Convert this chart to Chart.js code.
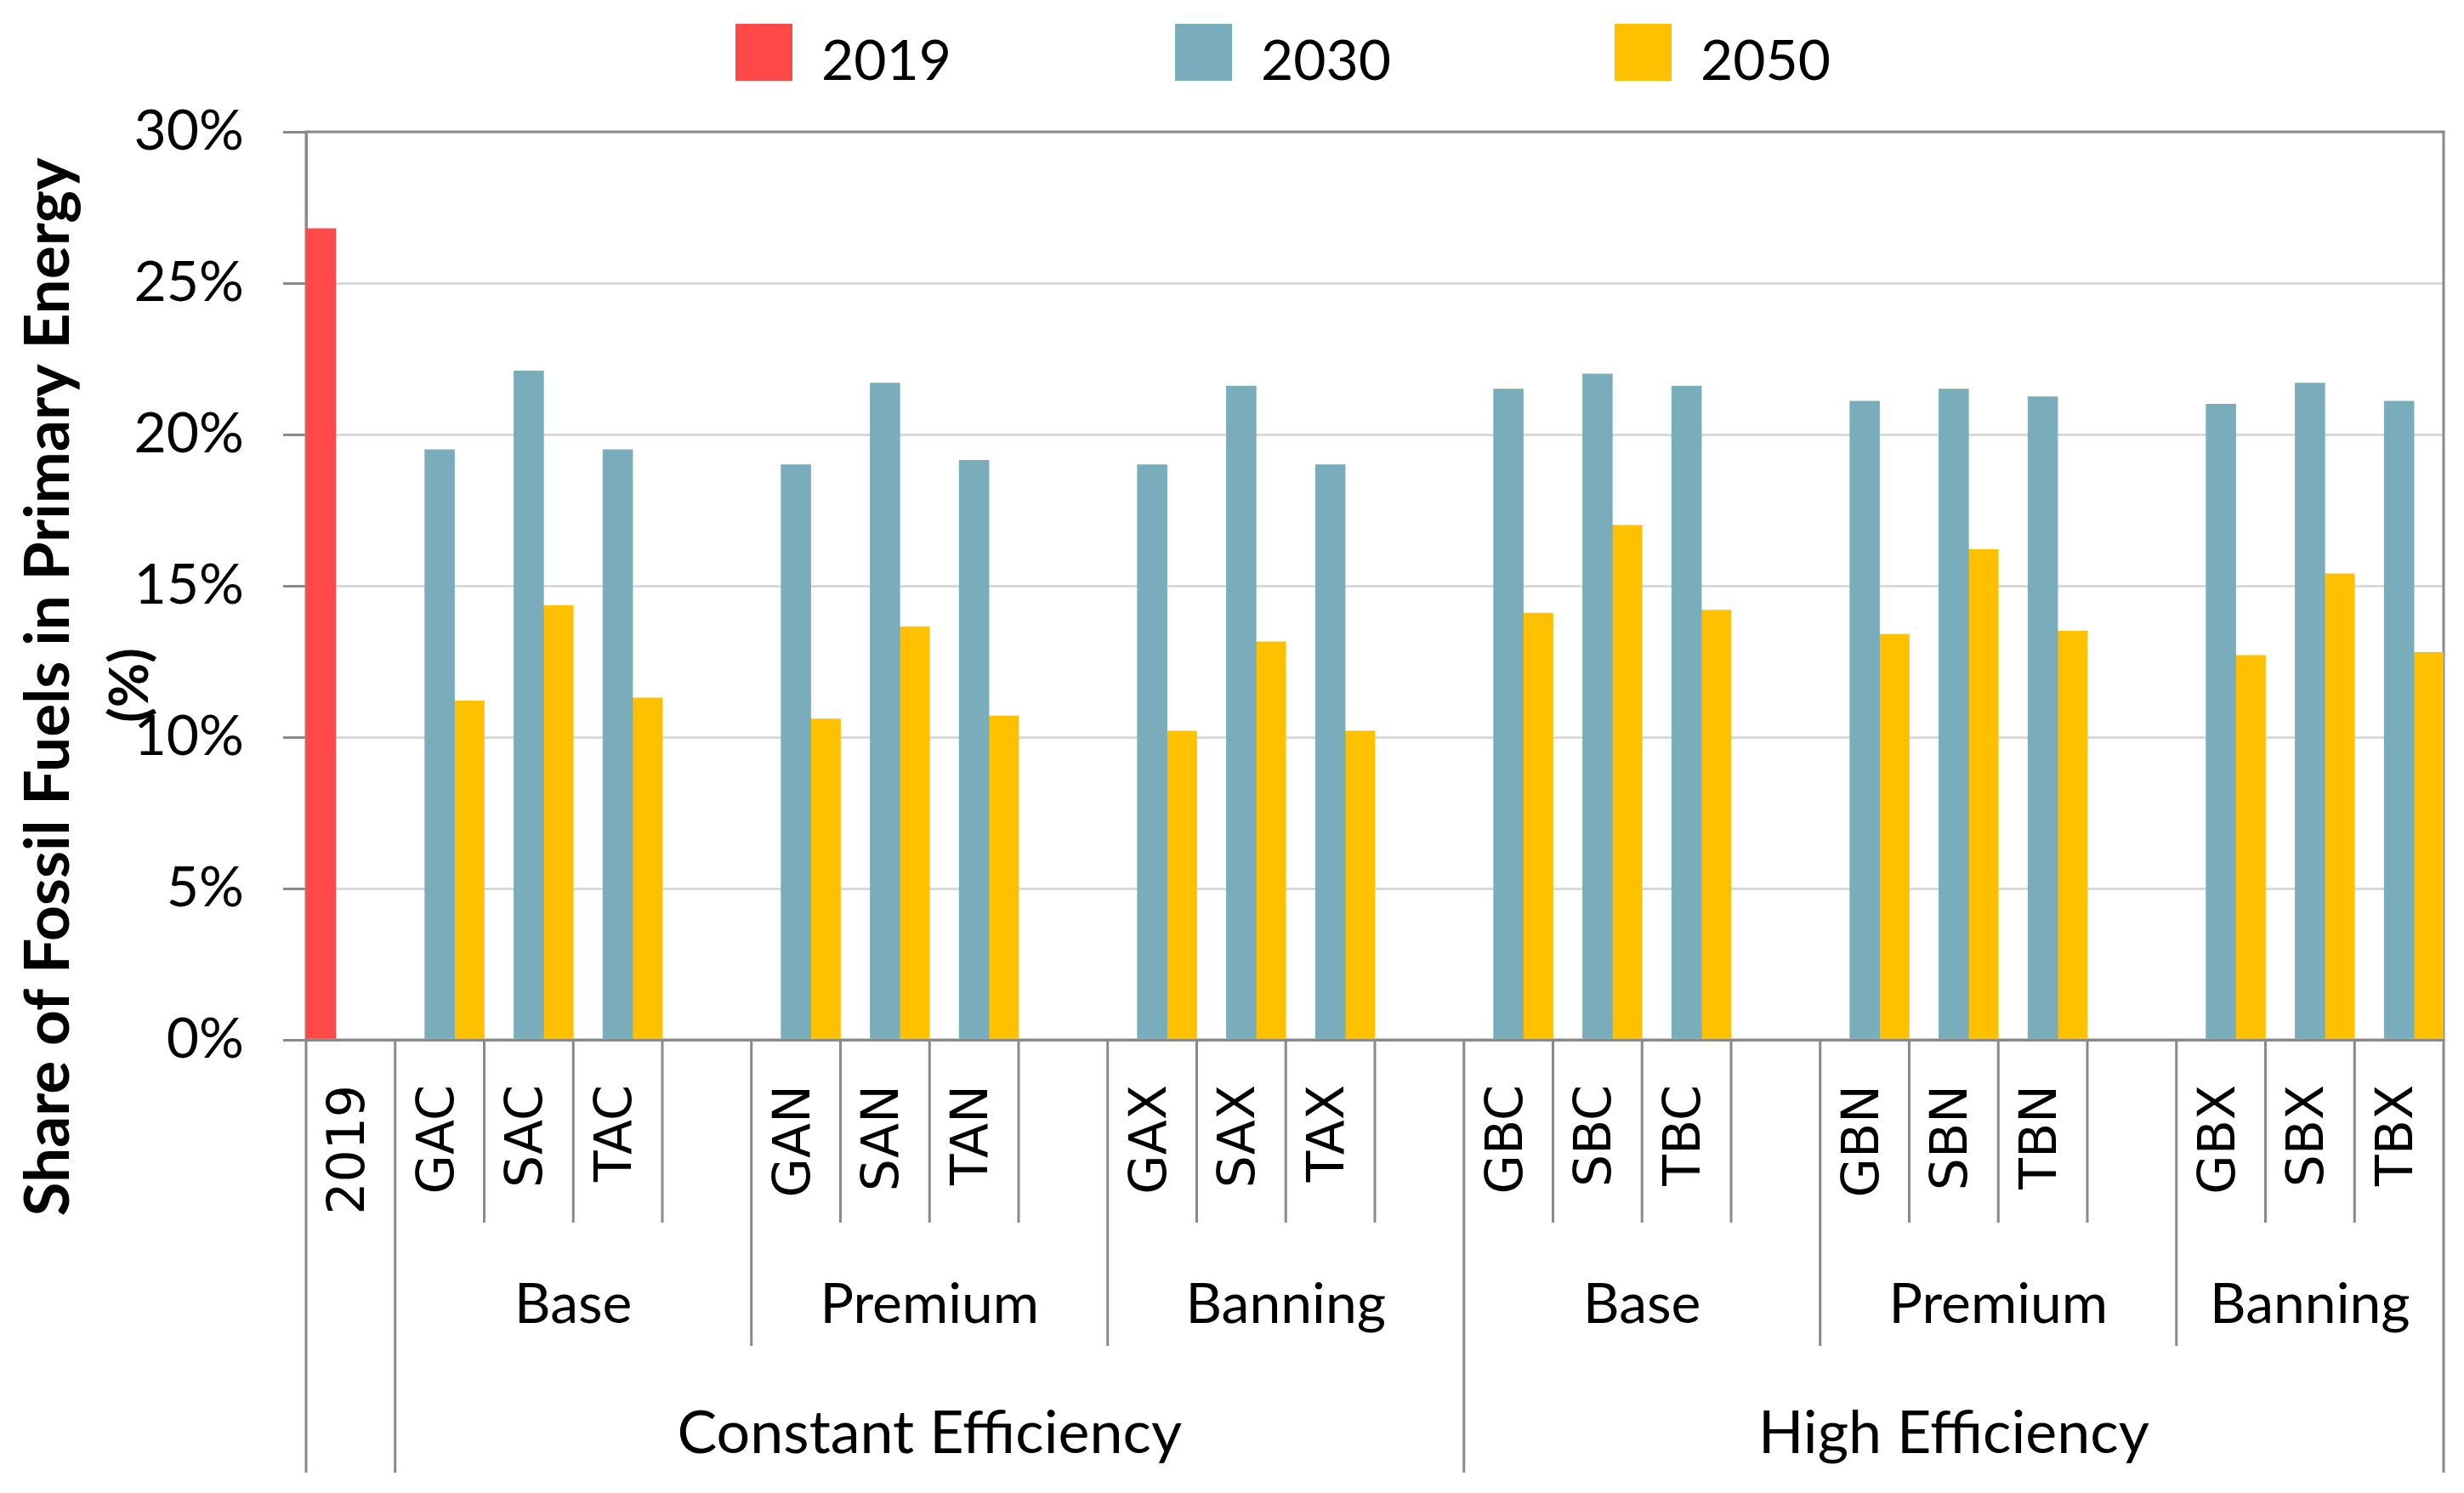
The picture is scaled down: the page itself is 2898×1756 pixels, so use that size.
<!DOCTYPE html>
<html>
<head>
<meta charset="utf-8">
<title>Share of Fossil Fuels in Primary Energy</title>
<script src="https://cdn.jsdelivr.net/npm/chart.js@4.4.0/dist/chart.umd.min.js"></script>
<style>
    html, body { margin: 0; padding: 0; background: #ffffff; }
    #contenedor { width: 2898px; height: 1756px; }
</style>
</head>
<body>
<div id="contenedor"><canvas id="grafico"></canvas></div>
<script>

//DATOS DEL GRÁFICO.
const categorias = ['2019', 'GAC', 'SAC', 'TAC', '', 'GAN', 'SAN', 'TAN', '', 'GAX', 'SAX', 'TAX', '',
                    'GBC', 'SBC', 'TBC', '', 'GBN', 'SBN', 'TBN', '', 'GBX', 'SBX', 'TBX'];
const valores2019 = [26.8, null, null, null, null, null, null, null, null, null, null, null, null,
                     null, null, null, null, null, null, null, null, null, null, null];
const valores2030 = [null, 19.5, 22.1, 19.5, null, 19.0, 21.7, 19.15, null, 19.0, 21.6, 19.0, null,
                     21.5, 22.0, 21.6, null, 21.1, 21.5, 21.25, null, 21.0, 21.7, 21.1];
const valores2050 = [null, 11.2, 14.35, 11.3, null, 10.6, 13.65, 10.7, null, 10.2, 13.15, 10.2, null,
                     14.1, 17.0, 14.2, null, 13.4, 16.2, 13.5, null, 12.7, 15.4, 12.8];
const series = ['2019', '2030', '2050'];
const politicas = ['', 'Base', 'Premium', 'Banning', 'Base', 'Premium', 'Banning'];
const politicasSpan = [1, 4, 4, 4, 4, 4, 3];
const eficiencias = ['', 'Constant Efficiency', 'High Efficiency'];
const eficienciasSpan = [1, 12, 11];
const ticksY = [0, 5, 10, 15, 20, 25, 30];
const tituloY = ['Share of Fossil Fuels in Primary Energy', '(%)'];

const COLOR_EJE = '#898989';
const COLOR_GRILLA = '#d9d9d9';


//FUNCIÓN PARA OBTENER LOS LÍMITES (EN PIXELES) DE CADA CATEGORÍA DEL EJE X.
function limitesCategorias(escala) {
    const ancho = escala.getPixelForValue(1) - escala.getPixelForValue(0);
    const limites = [];
    for (let i = 0; i <= categorias.length; i++) {
        limites.push(escala.getPixelForValue(0) - ancho / 2 + i * ancho);
    }
    return limites;
}


//FUNCIÓN PARA OBTENER LOS ÍNDICES DONDE TERMINA CADA GRUPO.
function cortesGrupo(spans) {
    const cortes = [0];
    spans.forEach(s => cortes.push(cortes[cortes.length - 1] + s));
    return cortes;
}


//PLUGIN PARA DIBUJAR EL MARCO, LA LEYENDA, EL TÍTULO Y LAS ETIQUETAS AGRUPADAS DEL EJE X.
const etiquetasAgrupadas = {
    id: 'etiquetasAgrupadas',
    beforeDatasetsDraw(chart) {
        const {ctx, chartArea} = chart;
        ctx.save();
        ctx.strokeStyle = COLOR_EJE;
        ctx.lineWidth = 3;
        ctx.strokeRect(chartArea.left, chartArea.top, chartArea.width, chartArea.height);
        ctx.restore();
    },
    afterDraw(chart) {
        const {ctx, chartArea} = chart;
        const escalaX = chart.scales.x;
        const limites = limitesCategorias(escalaX);
        const base = chartArea.bottom;
        const cortesPol = cortesGrupo(politicasSpan);
        const cortesEf = cortesGrupo(eficienciasSpan);

        ctx.save();
        ctx.strokeStyle = COLOR_EJE;
        ctx.lineWidth = 3;

        //LÍNEAS SEPARADORAS (3 NIVELES).
        limites.forEach((x, i) => {
            let largo = 215;
            if (cortesPol.includes(i)) largo = 360;
            if (cortesEf.includes(i)) largo = 509;
            ctx.beginPath();
            ctx.moveTo(x, base);
            ctx.lineTo(x, base + largo);
            ctx.stroke();
        });

        //ETIQUETAS DE POLÍTICA Y EFICIENCIA.
        ctx.fillStyle = '#000000';
        ctx.textAlign = 'center';
        ctx.textBaseline = 'middle';
        ctx.font = '66px Lato';
        politicas.forEach((texto, i) => {
            const centro = (limites[cortesPol[i]] + limites[cortesPol[i + 1]]) / 2;
            ctx.fillText(texto, centro, base + 312);
        });
        ctx.font = '70px Lato';
        eficiencias.forEach((texto, i) => {
            const centro = (limites[cortesEf[i]] + limites[cortesEf[i + 1]]) / 2;
            ctx.fillText(texto, centro, base + 463);
        });

        //TÍTULO DEL EJE Y (GIRADO).
        ctx.save();
        ctx.translate(57, chartArea.top + 653);
        ctx.rotate(-Math.PI / 2);
        ctx.font = 'bold 73px Lato';
        ctx.fillText(tituloY[0], 0, 0, 1245);
        ctx.restore();
        ctx.save();
        ctx.translate(153, chartArea.top + 651);
        ctx.rotate(-Math.PI / 2);
        ctx.font = 'bold 64px Lato';
        ctx.fillText(tituloY[1], 0, 0);
        ctx.restore();

        //LEYENDA.
        ctx.textAlign = 'left';
        ctx.textBaseline = 'alphabetic';
        ctx.font = '66px Lato';
        chart.data.datasets.forEach((ds, i) => {
            const x = 865 + i * 517;
            ctx.fillStyle = ds.backgroundColor;
            ctx.fillRect(x, 28, 67, 67);
            ctx.fillStyle = '#000000';
            ctx.fillText(ds.label, x + 101, 94);
        });
        ctx.restore();
    }
};


//SE DEFINE Y CONFIGURA EL GRÁFICO.
const ctx = document.getElementById('grafico');
const colores = ['#ff4848', '#79adbc', '#ffc000'];
const grafico = new Chart(ctx, {
    type: 'bar',
    data: {
        labels: categorias,
        datasets: [valores2019, valores2030, valores2050].map((valores, i) => ({
            label: series[i],
            data: valores,
            backgroundColor: colores[i],
            barPercentage: 1,
            categoryPercentage: 1
        }))
    },
    options: {
        responsive: true,
        maintainAspectRatio: false,
        animation: false,
        layout: {
            padding: { top: 155, right: 24, bottom: 0, left: 0 }
        },
        plugins: {
            legend: { display: false },
            tooltip: { enabled: false }
        },
        scales: {
            x: {
                grid: { display: false, drawTicks: false },
                border: { display: true, color: COLOR_EJE, width: 3 },
                ticks: {
                    autoSkip: false,
                    minRotation: 90,
                    maxRotation: 90,
                    padding: 53,
                    color: '#000000',
                    font: { family: 'DejaVu Sans', size: 60 }
                },
                afterFit: function(escala) {
                    escala.height = 533;
                    escala.paddingLeft = 0;
                    escala.paddingRight = 0;
                }
            },
            y: {
                min: 0,
                max: 30,
                grid: {
                    color: COLOR_GRILLA,
                    lineWidth: 3,
                    tickColor: COLOR_EJE,
                    tickLength: 27
                },
                border: { display: true, color: COLOR_EJE, width: 3 },
                afterBuildTicks: function(escala) {
                    escala.ticks = ticksY.map(v => ({ value: v }));
                },
                ticks: {
                    padding: 46,
                    color: '#000000',
                    font: { family: 'Lato', size: 66 },
                    callback: function(valor) {
                        return valor + '%';
                    }
                },
                afterFit: function(escala) {
                    escala.width = 360;
                }
            }
        }
    },
    plugins: [etiquetasAgrupadas]
});

</script>
</body>
</html>
